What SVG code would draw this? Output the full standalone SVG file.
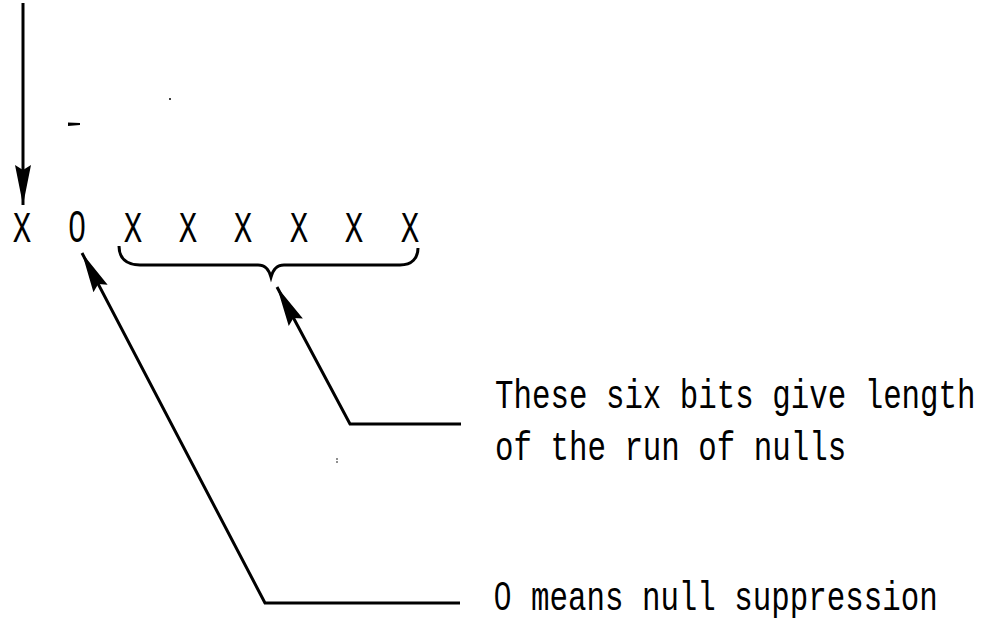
<svg xmlns="http://www.w3.org/2000/svg" width="989" height="623" viewBox="0 0 989 623">
<style>
  .ln { fill: none; stroke: #000; stroke-width: 3; stroke-linejoin: miter; }
  .lbl { font-family: "Liberation Mono", "DejaVu Sans Mono", monospace; font-size: 30.8px; fill: #000; }
  .bit { font-family: "Liberation Mono", "DejaVu Sans Mono", monospace; font-size: 44px; fill: #000; text-anchor: middle; }
  .zero { font-family: "Liberation Sans", Arial, sans-serif; }
  .speck { fill: #000; }
</style>
<defs>
  <marker id="ah" markerUnits="userSpaceOnUse" markerWidth="44" markerHeight="20" viewBox="-40 -10 42 20" refX="0" refY="0" orient="auto-start-reverse">
    <path d="M0,0 L-40,-8 L-35,0 L-40,8 Z" fill="#000"/>
  </marker>
</defs>
<rect width="989" height="623" fill="#fff"/>

<g id="connectors">
  <path id="c-in" class="ln" d="M23,3 L23,205" marker-end="url(#ah)"/>
  <path id="c-zero" class="ln" d="M460,603 L265,603 L82,253" marker-end="url(#ah)"/>
  <path id="c-six" class="ln" d="M461,424 L350,424 L277,287" marker-end="url(#ah)"/>
</g>

<g id="bits">
  <g transform="translate(0,242) scale(0.7,1)">
    <text class="bit" y="0"><tspan x="31.4">X</tspan><tspan class="zero" x="110">0</tspan><tspan x="190 268.6 347.1 427.1 505.7 585.7">XXXXXX</tspan></text>
  </g>
</g>

<g id="brace">
  <path class="ln" d="M119,246 C119,258 126,265 140,265 L258,265 C266,265 269,270 271,277 C273,270 276,265 284,265 L400,265 C412,265 418,258 418,248"/>
</g>

<g id="label-six">
  <text class="lbl" transform="translate(495,408) scale(1,1.3)" x="0" y="0">These six bits give length</text>
  <text class="lbl" transform="translate(495,460) scale(1,1.3)" x="0" y="0">of the run of nulls</text>
</g>

<g id="label-zero">
  <text class="lbl" transform="translate(494,610) scale(1,1.3)" x="0" y="0"><tspan class="zero">0</tspan><tspan dx="1.4"> means null suppression</tspan></text>
</g>

<g id="specks">
  <path class="speck" d="M68,122.5 L80,123 L80,125 L68,126 Z"/>
  <circle class="speck" cx="170" cy="99" r="1"/>
  <circle class="speck" cx="337" cy="459" r="0.8"/>
  <circle class="speck" cx="337" cy="462" r="0.8"/>
</g>
</svg>
